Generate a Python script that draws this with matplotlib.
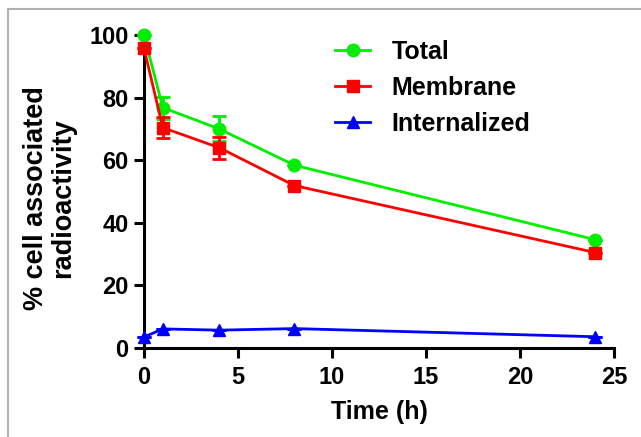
import matplotlib
matplotlib.use("Agg")
import matplotlib.pyplot as plt
from matplotlib.patches import Rectangle
from matplotlib.lines import Line2D

time_h = [0, 1, 4, 8, 24]
total = [100, 76.8, 70.0, 58.4, 34.6]
total_err = [0, 3.5, 4.0, 0, 0]
membrane = [95.8, 70.4, 64.0, 51.9, 30.5]
membrane_err = [0, 3.3, 3.5, 0, 0]
internalized = [3.5, 6.1, 5.7, 6.2, 3.6]
internalized_err = [0, 0, 0, 0, 0]

series_names = ['Total', 'Membrane', 'Internalized']
x_ticks = [0, 5, 10, 15, 20, 25]
y_ticks = [0, 20, 40, 60, 80, 100]

plt.rcParams['font.family'] = ['Liberation Sans', 'DejaVu Sans']
plt.rcParams['font.weight'] = 'bold'

W, H = 641, 437
fig = plt.figure(figsize=(W / 100, H / 100), dpi=100)
ax = fig.add_axes([144 / W, 1 - 348 / H, (614 - 144) / W, (348 - 35) / H])

fig.patches.append(Rectangle((8 / W, -0.01), 1.1, 1 - 9 / H + 0.01,
                             transform=fig.transFigure, fill=False,
                             edgecolor='#b0b0b0', linewidth=1.5))

lw = 2.0
colors = ['#00ee00', '#ff0000', '#0000ff']
markers = ['o', 's', '^']
data = [(total, total_err), (membrane, membrane_err), (internalized, internalized_err)]
zs = [3, 4, 3]
for (vals, err), c, m, name, z in zip(data, colors, markers, series_names, zs):
    ax.errorbar(time_h, vals, yerr=err, color=c, marker=m, markersize=9,
                linewidth=lw, capsize=4.7, capthick=lw, elinewidth=lw,
                clip_on=False, zorder=z)

ax.set_xlim(0, 25)
ax.set_ylim(0, 100)
ax.set_xticks(x_ticks)
ax.set_yticks(y_ticks)
ax.spines['top'].set_visible(False)
ax.spines['right'].set_visible(False)
for s in ['left', 'bottom']:
    ax.spines[s].set_linewidth(2.2)
ax.tick_params(axis='both', which='major', direction='out', length=7, width=2.2,
               labelsize=17)
ax.tick_params(axis='x', pad=6)
ax.tick_params(axis='y', pad=4)
for lab in ax.get_xticklabels() + ax.get_yticklabels():
    lab.set_fontweight('bold')

ax.set_xlabel('Time (h)', fontsize=18, fontweight='bold', labelpad=8)
ax.set_ylabel('% cell associated\nradioactivity', fontsize=19.5, fontweight='bold',
              labelpad=10, linespacing=1.05)
ax.yaxis.set_label_coords(-0.145, 0.478)

handles = [Line2D([0], [0], color=c, marker=m, markersize=9, linewidth=lw)
           for c, m in zip(colors, markers)]
leg = fig.legend(handles, series_names, loc='upper left',
                 bbox_to_anchor=(335 / W, 1 - 40 / H), bbox_transform=fig.transFigure,
                 frameon=False, fontsize=18, handlelength=1.4, labelspacing=0.48,
                 handletextpad=0.85, borderpad=0, borderaxespad=0)
for t in leg.get_texts():
    t.set_fontweight('bold')

fig.savefig('out.png', dpi=100)
